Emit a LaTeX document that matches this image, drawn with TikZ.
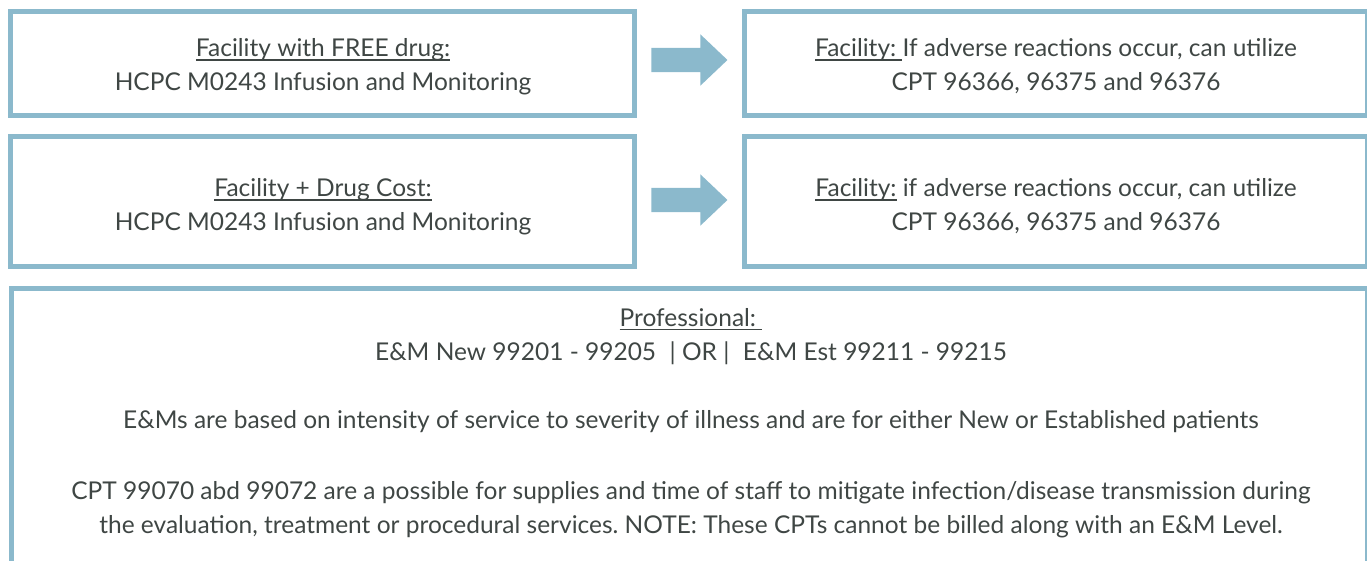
\documentclass[tikz,border=0pt]{standalone}
\usepackage{fontspec}
\setmainfont{Lato}
\usetikzlibrary{shapes.arrows}
\definecolor{frame}{HTML}{8BB9CC}
\definecolor{ink}{HTML}{3F4644}
\frenchspacing
\newcommand{\ulx}[1]{\setbox0\hbox{#1}\rlap{\rule[-4.2pt]{\wd0}{1.4pt}}\box0\relax}
\tikzset{
  box/.style={draw=frame, line width=5pt, inner sep=0pt, rectangle},
  txt/.style={align=center, text=ink, inner sep=0pt, font=\fontsize{24.5}{34}\selectfont},
  blockarrow/.style={single arrow, fill=frame, draw=none, inner xsep=0pt, inner ysep=12pt,
    minimum height=76pt, minimum width=51pt, single arrow head extend=13.5pt,
    single arrow tip angle=87}
}
\begin{document}
\begin{tikzpicture}[x=1pt,y=-1pt]
\useasboundingbox (0,0) rectangle (1367,561);
\clip (0,0) rectangle (1367,561);
% boxes
\node[box, minimum width=624pt, minimum height=104pt] (f1) at (322.5,63.5) {};
\node[box, minimum width=624pt, minimum height=130pt] (f2) at (322.5,201.5) {};
\node[box, minimum width=623pt, minimum height=104pt] (r1) at (1056,63.5) {};
\node[box, minimum width=623pt, minimum height=130pt] (r2) at (1056,201.5) {};
\node[box, minimum width=1356pt, minimum height=331.5pt] (pro) at (689.5,454.25) {};
% arrows
\node[blockarrow] (a1) at (683,60) {};
\node[blockarrow] (a2) at (683,200) {};
% texts
\node[txt, anchor=base] (t1) at (323,90.7) {\ulx{Facility with FREE drug:}\\HCPC M0243 Infusion and Monitoring};
\node[txt, anchor=base] (t2) at (323,230.7) {\ulx{Facility + Drug Cost:}\\HCPC M0243 Infusion and Monitoring};
\node[txt, anchor=base] (t3) at (1056,90.7) {\ulx{Facility: }If adverse reactions occur, can utilize\\CPT 96366, 96375 and 96376};
\node[txt, anchor=base] (t4) at (1056,230.7) {\ulx{Facility:} if adverse reactions occur, can utilize\\CPT 96366, 96375 and 96376};
\node[txt, anchor=base] (t5) at (691,533) {\ulx{Professional: }\\
E\&M New 99201 - 99205\hspace{0.55em}| OR |\hspace{0.55em}E\&M Est 99211 - 99215\\[34pt]
E\&Ms are based on intensity of service to severity of illness and are for either New or Established patients\\[37pt]
CPT 99070 abd 99072 are a possible for supplies and time of staff to mitigate infection/disease transmission during\\
the evaluation, treatment or procedural services. NOTE: These CPTs cannot be billed along with an E\&M Level.};
\end{tikzpicture}
\end{document}
